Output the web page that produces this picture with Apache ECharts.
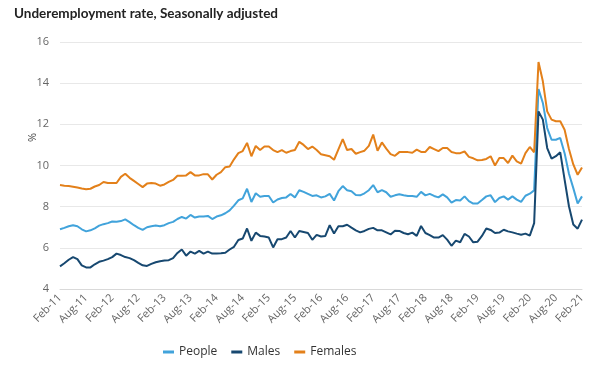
<!DOCTYPE html>
<html><head><meta charset="utf-8">
<script src="https://cdn.jsdelivr.net/npm/echarts@6/dist/echarts.min.js"></script>
<style>html,body{margin:0;padding:0;background:#fff}#c{width:602px;height:366px}</style>
</head><body><div id="c"></div>
<script>
const monthNames = ['Jan','Feb','Mar','Apr','May','Jun','Jul','Aug','Sep','Oct','Nov','Dec'];
const categories = [];
for (let k = 0; k < 121; k++) { const m = (1 + k) % 12; const y = 11 + Math.floor((1 + k) / 12); categories.push(monthNames[m] + '-' + y); }
const yTicks = [4, 6, 8, 10, 12, 14, 16];
const people = [6.9,6.97,7.05,7.1,7.05,6.9,6.8,6.85,6.95,7.08,7.15,7.2,7.28,7.27,7.3,7.38,7.25,7.1,6.97,6.87,7.0,
7.05,7.08,7.05,7.1,7.2,7.26,7.4,7.5,7.42,7.6,7.47,7.52,7.52,7.55,7.4,7.52,7.58,7.68,7.82,8.05,
8.31,8.4,8.87,8.23,8.65,8.48,8.52,8.52,8.2,8.35,8.42,8.45,8.62,8.45,8.8,8.72,8.62,8.52,8.55,8.45,
8.5,8.62,8.3,8.75,9.0,8.8,8.75,8.57,8.55,8.65,8.8,9.05,8.7,8.8,8.7,8.48,8.55,8.6,8.55,8.52,
8.52,8.48,8.72,8.55,8.62,8.52,8.45,8.6,8.45,8.2,8.32,8.3,8.5,8.27,8.15,8.15,8.32,8.5,8.55,8.22,
8.42,8.5,8.34,8.5,8.34,8.23,8.53,8.63,8.79,13.72,13.04,11.82,11.25,11.25,11.34,10.6,9.6,8.9,8.15,8.5];
const males = [5.1,5.25,5.42,5.55,5.45,5.15,5.05,5.05,5.2,5.32,5.38,5.45,5.55,5.72,5.65,5.55,5.5,5.4,5.27,5.15,5.12,
5.22,5.3,5.35,5.38,5.4,5.5,5.75,5.92,5.62,5.82,5.72,5.85,5.72,5.82,5.72,5.73,5.74,5.76,5.92,6.05,
6.38,6.45,6.94,6.34,6.74,6.58,6.55,6.5,6.02,6.42,6.42,6.5,6.82,6.5,6.82,6.77,6.72,6.39,6.63,6.55,
6.58,7.1,6.7,7.05,7.05,7.12,6.98,6.85,6.75,6.82,6.92,6.97,6.85,6.85,6.75,6.65,6.83,6.82,6.72,6.66,
6.74,6.58,7.06,6.72,6.62,6.5,6.5,6.62,6.4,6.1,6.35,6.27,6.68,6.55,6.27,6.3,6.58,6.94,6.87,6.72,
6.74,6.88,6.8,6.75,6.69,6.64,6.69,6.59,7.2,12.63,12.23,10.85,10.33,10.45,10.64,9.31,8.02,7.13,6.93,7.37];
const females = [9.05,9.02,9.0,8.97,8.93,8.88,8.85,8.87,8.98,9.05,9.2,9.15,9.15,9.15,9.45,9.6,9.4,9.25,9.1,8.95,9.12,
9.15,9.12,9.02,9.08,9.2,9.3,9.5,9.5,9.52,9.68,9.52,9.52,9.58,9.57,9.32,9.55,9.68,9.92,9.95,10.3,
10.6,10.7,11.1,10.45,10.95,10.75,10.92,10.92,10.75,10.65,10.75,10.62,10.7,10.75,11.15,11.0,10.8,10.92,10.75,10.55,
10.5,10.45,10.28,10.78,11.28,10.75,10.8,10.57,10.65,10.72,10.95,11.5,10.72,11.12,10.82,10.55,10.47,10.65,10.65,10.65,
10.62,10.77,10.66,10.66,10.9,10.8,10.7,10.85,10.85,10.66,10.6,10.6,10.68,10.42,10.35,10.25,10.27,10.32,10.45,10.0,
10.36,10.36,10.12,10.48,10.2,10.09,10.6,10.9,10.64,15.03,14.09,12.63,12.23,12.15,12.15,11.74,10.8,10.05,9.55,9.9];

const FONT = '"Open Sans", "Noto Sans", sans-serif';
const chart = echarts.init(document.getElementById('c'), null, {renderer: 'canvas'});
function ser(name, data, color) {
  return {name, type: 'line', data, showSymbol: false, symbol: 'none', lineStyle: {width: 2, color}, itemStyle: {color}, animation: false};
}
chart.setOption({
  animation: false,
  title: {text: 'Underemployment rate, Seasonally adjusted', left: 9, top: 2,
    textStyle: {fontFamily: 'Lato, "Open Sans", sans-serif', fontSize: 13.5, fontWeight: 'bold', color: '#222'}},
  graphic: [{type: 'text', left: 27, top: 133, rotation: Math.PI / 2,
    style: {text: '%', fontFamily: FONT, fontSize: 11, fill: '#444'}}],
  legend: {bottom: 3, left: 158, itemWidth: 11, itemHeight: 3, itemGap: 14, icon: 'rect',
    textStyle: {fontFamily: FONT, fontSize: 12, color: '#333'},
    data: ['People', 'Males', 'Females']},
  grid: {left: 60, right: 20, top: 42, bottom: 77, containLabel: false},
  xAxis: {type: 'category', data: categories, boundaryGap: false,
    axisLine: {show: true, lineStyle: {color: '#d9d9d9'}}, axisTick: {show: false},
    axisLabel: {interval: 5, rotate: 45, fontFamily: FONT, fontSize: 11, color: '#666', margin: 7},
    splitLine: {show: false}},
  yAxis: {type: 'value', min: yTicks[0], max: yTicks[yTicks.length - 1], interval: 2,
    axisLine: {show: false}, axisTick: {show: false},
    axisLabel: {fontFamily: FONT, fontSize: 11, color: '#666', margin: 11},
    splitLine: {lineStyle: {color: '#e8e8e8', width: 1}}},
  series: [ser('People', people, '#41a3db'), ser('Males', males, '#174870'), ser('Females', females, '#e3801a')]
});
</script></body></html>
